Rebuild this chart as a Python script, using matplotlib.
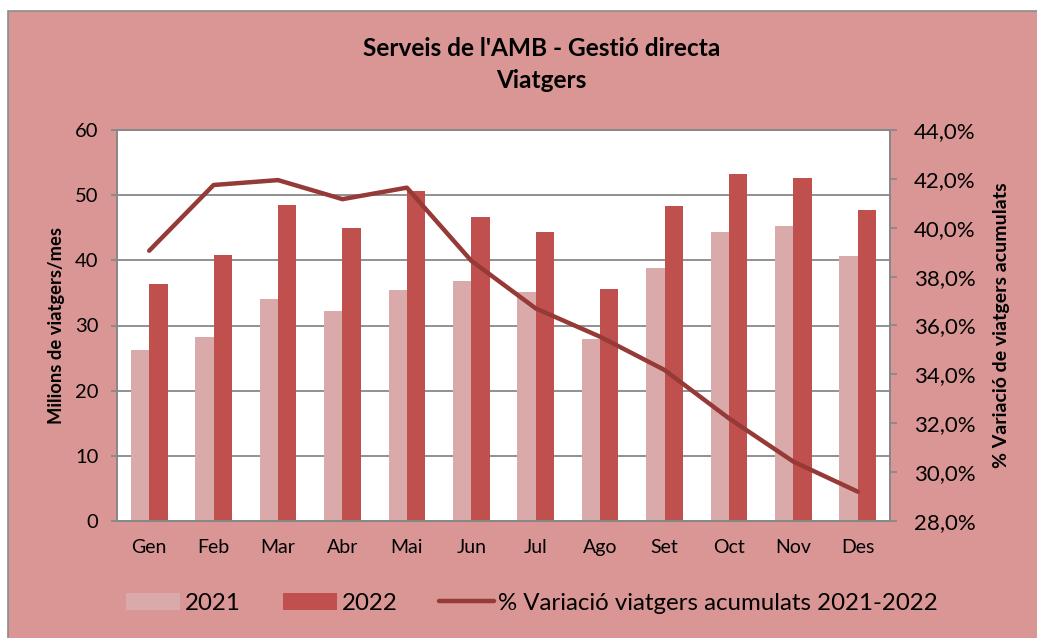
import matplotlib
matplotlib.use("Agg")
import matplotlib.pyplot as plt
import numpy as np
from matplotlib.patches import Rectangle
from matplotlib.ticker import FixedLocator

plt.rcParams['font.family'] = ['Lato', 'DejaVu Sans']

months = ["Gen", "Feb", "Mar", "Abr", "Mai", "Jun", "Jul", "Ago", "Set", "Oct", "Nov", "Des"]
viatgers_2021 = [26.2, 28.2, 34.1, 32.3, 35.4, 36.9, 35.2, 28.0, 38.9, 44.4, 45.3, 40.6]
viatgers_2022 = [36.4, 40.8, 48.5, 45.0, 50.7, 46.7, 44.3, 35.6, 48.4, 53.2, 52.7, 47.8]
variacio_acum = [39.06, 41.75, 41.95, 41.17, 41.64, 38.65, 36.70, 35.54, 34.18, 32.20, 30.43, 29.20]
left_ticks = [0, 10, 20, 30, 40, 50, 60]
right_ticks = [28, 30, 32, 34, 36, 38, 40, 42, 44]
right_tick_labels = ["28,0%", "30,0%", "32,0%", "34,0%", "36,0%", "38,0%", "40,0%", "42,0%", "44,0%"]

BG = "#D99694"
C2021 = "#DAAAAA"
C2022 = "#C0504D"
CLINE = "#963A37"
GRID = "#888888"

fig = plt.figure(figsize=(10.37, 6.38), dpi=100)
fig.patch.set_facecolor("white")
fig.patches.append(Rectangle((8 / 1037, -0.05), 1.1, 1 - 11 / 638 + 0.05,
                             transform=fig.transFigure, facecolor=BG,
                             edgecolor="#8C8C8C", linewidth=1.2, zorder=-10))

ax = fig.add_axes([117 / 1037, 117 / 638, (890 - 117) / 1037, (521 - 130) / 638])
ax.set_facecolor("white")
x = np.arange(len(months))
w = 0.284
b1 = ax.bar(x - w / 2, viatgers_2021, w, color=C2021, label="2021", zorder=2)
b2 = ax.bar(x + w / 2, viatgers_2022, w, color=C2022, label="2022", zorder=2)
ax.set_xlim(-0.5, len(months) - 0.5)
ax.set_ylim(0, 60)
ax.yaxis.set_major_locator(FixedLocator(left_ticks))
ax.set_xticks(x)
ax.set_xticklabels(months)
ax.grid(axis="y", color=GRID, linewidth=1.3)
ax.set_axisbelow(True)
for s in ax.spines.values():
    s.set_color(GRID)
    s.set_linewidth(1.3)
ax.tick_params(axis="x", length=0, pad=13, labelsize=14)
ax.tick_params(axis="y", length=4.5, width=1.3, color=GRID, pad=9, labelsize=14.5)
ax.set_ylabel("Milions de viatgers/mes", fontsize=13.2, fontweight="bold")
ax.yaxis.set_label_coords(-0.067, 0.5)

ax2 = ax.twinx()
ax2.set_facecolor("none")
ln, = ax2.plot(x, variacio_acum, color=CLINE, linewidth=3.2, solid_capstyle="round",
               solid_joinstyle="round", label="% Variació viatgers acumulats 2021-2022", zorder=3)
ax2.set_ylim(28, 44)
ax2.yaxis.set_major_locator(FixedLocator(right_ticks))
ax2.set_yticklabels(right_tick_labels)
for s in ax2.spines.values():
    s.set_color(GRID)
    s.set_linewidth(1.3)
ax2.tick_params(axis="y", length=5, width=1.3, color=GRID, pad=12, labelsize=16)
ax2.set_ylabel("% Variació de viatgers acumulats", fontsize=14, fontweight="bold")
ax2.yaxis.set_label_coords(1.133, 0.5)

fig.text(0.522, 1 - 56 / 638, "Serveis de l'AMB - Gestió directa", ha="center", va="baseline",
         fontsize=17.6, fontweight="bold")
fig.text(0.522, 1 - 88 / 638, "Viatgers", ha="center", va="baseline",
         fontsize=17.6, fontweight="bold")

fig.legend(handles=[b1, b2, ln], loc="center", bbox_to_anchor=(532 / 1037, 1 - 603 / 638),
           ncol=3, frameon=False, fontsize=17.3, handlelength=2.25, handletextpad=0.2,
           columnspacing=1.75, handleheight=0.7)

fig.savefig("out.png", dpi=100, facecolor=fig.get_facecolor())
